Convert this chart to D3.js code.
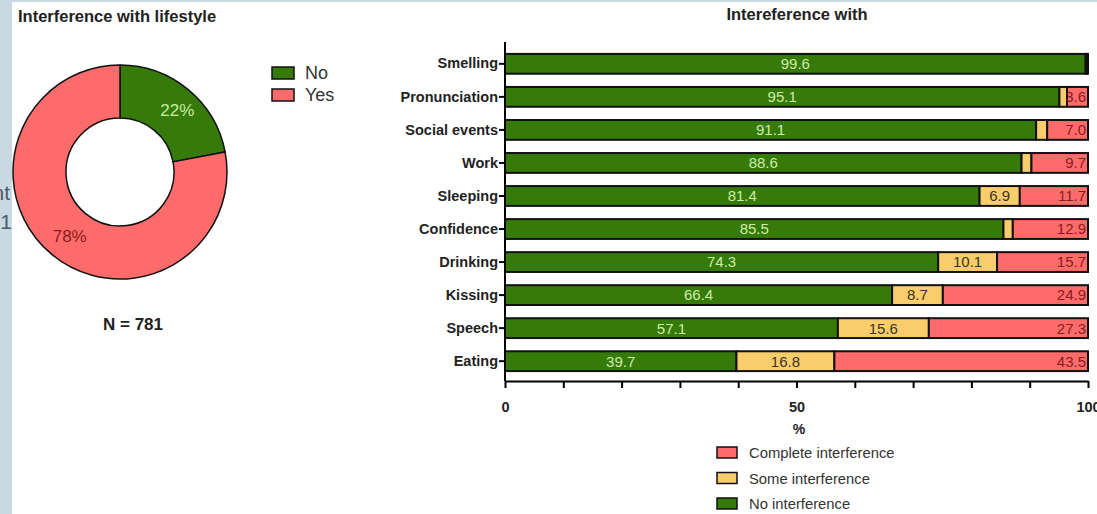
<!DOCTYPE html>
<html>
<head>
<meta charset="utf-8">
<script src="https://cdn.jsdelivr.net/npm/d3@7"></script>
<style>
  body { margin: 0; background: #c8d9e1; }
  svg { display: block; font-family: "Liberation Sans", Arial, sans-serif; }
</style>
</head>
<body>
<div id="chart"></div>
<script>
// donut data
const donutKeys = ['No', 'Yes'];
const donutValues = [22, 78];
const donutN = 781;

// stacked bar data (percent)
const categories = ['Smelling', 'Pronunciation', 'Social events', 'Work', 'Sleeping',
  'Confidence', 'Drinking', 'Kissing', 'Speech', 'Eating'];
const noInterference = [99.6, 95.1, 91.1, 88.6, 81.4, 85.5, 74.3, 66.4, 57.1, 39.7];
const someInterference = [0.2, 1.3, 1.9, 1.7, 6.9, 1.6, 10.1, 8.7, 15.6, 16.8];
const completeInterference = [0.2, 3.6, 7.0, 9.7, 11.7, 12.9, 15.7, 24.9, 27.3, 43.5];
const seriesNames = ['No interference', 'Some interference', 'Complete interference'];
const xTicks = [0, 10, 20, 30, 40, 50, 60, 70, 80, 90, 100];
const xTickLabels = [0, 50, 100];

const width = 1097, height = 514;
const green = '#367a0a', yellow = '#f9cd6c', red = '#fd6b6b';

let svg = d3.select('#chart').append('svg')
  .attr('width', width)
  .attr('height', height);

// page background + white panel
svg.append('rect').attr('width', width).attr('height', height).attr('fill', '#c8d9e1');
svg.append('rect').attr('x', 12).attr('y', 2).attr('width', width - 12).attr('height', height - 2).attr('fill', '#fff');

// bits of text peeking from behind on the left edge
svg.append('text').attr('x', 10).attr('y', 200).attr('text-anchor', 'end')
  .attr('font-size', 21).attr('fill', '#4b5b6e').text('nt');
svg.append('text').attr('x', 12).attr('y', 229).attr('text-anchor', 'end')
  .attr('font-size', 21).attr('fill', '#4b5b6e').text('(1');

// ---------- left panel: donut ----------
svg.append('text').attr('x', 18).attr('y', 22)
  .attr('font-size', 16.5).attr('font-weight', 'bold').attr('fill', '#222')
  .text('Interference with lifestyle');

let donutColor = d3.scaleOrdinal(donutKeys, [green, red]);
let pie = d3.pie().sort(null).value(d => d.value);
let slices = pie(donutKeys.map((k, i) => ({ key: k, value: donutValues[i] })));
let arc = d3.arc().innerRadius(54).outerRadius(107);

let donut = svg.append('g').attr('transform', 'translate(120,172)');
donut.selectAll('path')
  .data(slices)
  .enter()
  .append('path')
  .attr('d', arc)
  .attr('fill', d => donutColor(d.data.key))
  .attr('stroke', '#111')
  .style('stroke-width', '1.5px');

let labelArc = d3.arc().innerRadius(82).outerRadius(82);
donut.selectAll('text.pct')
  .data(slices)
  .enter()
  .append('text')
  .attr('class', 'pct')
  .attr('transform', d => {
    let c = labelArc.centroid(d);
    let dx = d.data.key === 'No' ? 5 : 2;
    return 'translate(' + (c[0] + dx) + ',' + (c[1] + 1) + ')';
  })
  .attr('text-anchor', 'middle')
  .attr('dy', '0.35em')
  .attr('font-size', 17)
  .attr('fill', d => d.data.key === 'No' ? '#c6ee9c' : '#8a1c1c')
  .text(d => d.data.value + '%');

// donut legend
let dl = svg.append('g').attr('transform', 'translate(272,67)');
donutKeys.forEach(function(k, i) {
  dl.append('rect').attr('x', 0).attr('y', i * 22).attr('width', 22).attr('height', 12)
    .attr('fill', donutColor(k)).attr('stroke', '#111').attr('stroke-width', 1.5);
  dl.append('text').attr('x', 33).attr('y', i * 22 + 12)
    .attr('font-size', 18).attr('fill', '#333').text(k);
});

svg.append('text').attr('x', 133).attr('y', 330).attr('text-anchor', 'middle')
  .attr('font-size', 17).attr('font-weight', 'bold').attr('fill', '#222')
  .text('N = ' + donutN);

// ---------- right panel: stacked bars ----------
svg.append('text').attr('x', 797).attr('y', 20).attr('text-anchor', 'middle')
  .attr('font-size', 16.5).attr('font-weight', 'bold').attr('fill', '#222')
  .text('Intereference with');

let x = d3.scaleLinear().domain([0, 100]).range([505, 1088]);
let y = d3.scaleBand().domain(categories).range([44, 381]).paddingInner(0.4).paddingOuter(0.3);

let rows = categories.map((c, i) => ({
  cat: c, no: noInterference[i], some: someInterference[i], complete: completeInterference[i]
}));
let stack = d3.stack().keys(['no', 'some', 'complete']);
let layers = stack(rows);
let fills = { no: green, some: yellow, complete: red };

let bars = svg.append('g');
layers.forEach(function(layer) {
  bars.selectAll('rect.' + layer.key)
    .data(layer)
    .enter()
    .append('rect')
    .attr('class', layer.key)
    .attr('x', d => x(d[0]))
    .attr('y', d => y(d.data.cat))
    .attr('width', d => Math.max(0, x(Math.min(d[1], 100)) - x(d[0])))
    .attr('height', y.bandwidth())
    .attr('fill', fills[layer.key])
    .attr('stroke', '#111')
    .style('stroke-width', '2px');
});

// value labels
let vl = svg.append('g').attr('font-size', 15);
layers.forEach(function(layer) {
  let shown = layer.filter(d => d.data[layer.key] >= (layer.key === 'some' ? 5 : 3));
  vl.selectAll('text.' + layer.key)
    .data(shown)
    .enter()
    .append('text')
    .attr('class', layer.key)
    .attr('x', d => layer.key === 'complete' ? x(100) - 2 : (x(d[0]) + x(d[1])) / 2)
    .attr('y', d => y(d.data.cat) + y.bandwidth() / 2)
    .attr('dy', '0.36em')
    .attr('text-anchor', layer.key === 'complete' ? 'end' : 'middle')
    .attr('fill', layer.key === 'no' ? '#cdeea6' : layer.key === 'some' ? '#3a3420' : '#8a1c1c')
    .text(d => d.data[layer.key].toFixed(1));
});

// axes
let yAxis = svg.append('g')
  .attr('transform', 'translate(505,0)')
  .call(d3.axisLeft(y).tickSize(6).tickPadding(1));
yAxis.select('.domain').attr('d', 'M0,42V381').attr('stroke-width', 2);
yAxis.selectAll('.tick line').attr('stroke-width', 2);
yAxis.selectAll('.tick text')
  .attr('font-size', 14.5).attr('font-weight', 'bold').attr('fill', '#222')
  .attr('font-family', '"Liberation Sans", Arial, sans-serif');

let xAxis = svg.append('g')
  .attr('transform', 'translate(0,381)')
  .call(d3.axisBottom(x).tickValues(xTicks).tickSize(7).tickSizeOuter(0)
    .tickFormat(d => xTickLabels.includes(d) ? d : ''));
xAxis.select('.domain').attr('stroke-width', 2);
xAxis.selectAll('.tick line').attr('stroke-width', 2);
xAxis.selectAll('.tick text')
  .attr('y', 21)
  .attr('font-size', 14.5).attr('font-weight', 'bold').attr('fill', '#222')
  .attr('font-family', '"Liberation Sans", Arial, sans-serif');

svg.append('text').attr('x', 799).attr('y', 434).attr('text-anchor', 'middle')
  .attr('font-size', 14).attr('font-weight', 'bold').attr('fill', '#222').text('%');

// bottom legend
let legendItems = [
  { name: seriesNames[2], color: red },
  { name: seriesNames[1], color: yellow },
  { name: seriesNames[0], color: green }
];
let bl = svg.append('g').attr('transform', 'translate(717,447)');
legendItems.forEach(function(d, i) {
  bl.append('rect').attr('x', 0).attr('y', i * 25.5).attr('width', 20).attr('height', 11)
    .attr('fill', d.color).attr('stroke', '#111').attr('stroke-width', 1.5);
  bl.append('text').attr('x', 32).attr('y', i * 25.5 + 11)
    .attr('font-size', 14.8).attr('fill', '#333').text(d.name);
});
</script>
</body>
</html>
